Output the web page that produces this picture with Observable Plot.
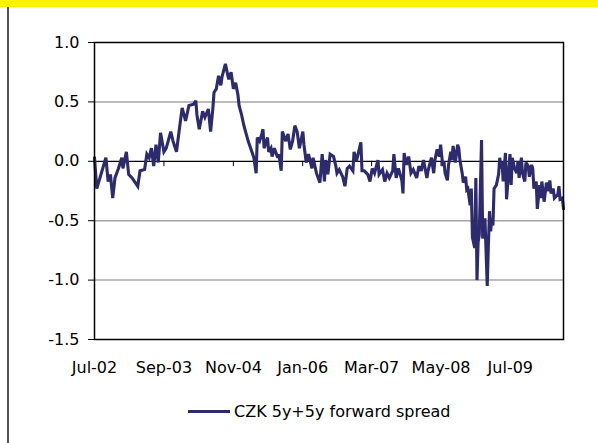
<!DOCTYPE html>
<html>
<head>
<meta charset="utf-8">
<script src="https://cdn.jsdelivr.net/npm/d3@7"></script>
<script src="https://cdn.jsdelivr.net/npm/@observablehq/plot@0.6"></script>
<style>
  html, body { margin: 0; padding: 0; background: #fff; }
  body { width: 598px; height: 443px; position: relative; overflow: hidden; font-family: "DejaVu Sans", sans-serif; }
  #band { position: absolute; left: 0; top: 0; width: 598px; height: 7px; background: #FFF200; }
  #vline { position: absolute; left: 7px; top: 7px; width: 1.5px; height: 436px; background: #555; }
  #chart { position: absolute; left: 0; top: 0; }
  #legend { position: absolute; left: 188px; top: 402px; display: flex; align-items: center; font-size: 16px; color: #000; white-space: nowrap; }
  #legend .sw { width: 42px; height: 3px; background: #2D2B6E; margin-right: 4px; }
</style>
</head>
<body>
<div id="band"></div>
<div id="vline"></div>
<div id="chart"></div>
<div id="legend"><span class="sw"></span><span id="legtext"></span></div>
<script>
// Series: [weeks since 1 Jul 2002, CZK 5y+5y forward spread]
const seriesName = "CZK 5y+5y forward spread";
const spread = [
[0,0.03],[2,-0.23],[10,0.03],[12,-0.17],[14,-0.11],[16,-0.31],[18,-0.14],[21,-0.06],[24,0.03],[25,-0.06],
[28,0.08],[30,-0.11],[33,-0.14],[38,-0.21],[40,-0.08],[44,-0.07],[46,0.06],[48,0.03],[50,0.11],[52,-0.04],
[54,0.14],[56,-0.01],[58,0.24],[61,0.08],[63,0.11],[67,0.25],[69,0.17],[72,0.08],[74,0.23],[77,0.45],
[80,0.34],[83,0.47],[87,0.48],[89,0.51],[90,0.39],[92,0.27],[95,0.42],[97,0.37],[100,0.44],[102,0.25],
[104,0.45],[105,0.58],[107,0.61],[109,0.72],[111,0.64],[112,0.71],[115,0.82],[117,0.73],[118,0.69],[120,0.75],
[122,0.61],[124,0.66],[126,0.56],[127,0.47],[129,0.40],[131,0.31],[133,0.24],[135,0.17],[139,0.06],[140,0.03],
[142,-0.10],[143,0.20],[145,0.17],[147,0.23],[148,0.27],[149,0.11],[152,0.20],[153,0.08],[155,0.11],[156,0.04],
[158,0.11],[161,0.03],[162,0.06],[164,-0.08],[165,0.25],[168,0.17],[170,0.23],[172,0.10],[174,0.17],[176,0.30],
[178,0.25],[180,0.11],[183,0.25],[184,0.14],[186,-0.01],[188,0.06],[191,-0.06],[192,0.03],[195,-0.10],[198,-0.18],
[200,0.06],[202,-0.17],[203,0.01],[205,-0.11],[207,0.06],[210,0.04],[212,-0.04],[213,-0.10],[215,-0.07],[218,-0.13],
[220,-0.21],[222,-0.06],[224,-0.04],[227,-0.08],[228,0.08],[230,0.00],[232,0.08],[234,0.16],[235,-0.08],[237,-0.08],
[240,-0.11],[242,-0.17],[244,-0.06],[246,-0.10],[249,0.01],[250,-0.11],[253,-0.07],[255,-0.17],[257,-0.10],[259,-0.14],
[262,-0.08],[263,0.06],[265,-0.14],[267,-0.06],[270,-0.16],[271,-0.27],[272,0.07],[274,-0.03],[276,0.04],[278,-0.10],
[280,-0.07],[283,-0.14],[285,-0.04],[287,-0.08],[289,0.01],[292,-0.14],[293,-0.08],[296,0.03],[298,-0.10],[299,0.01],
[301,0.10],[303,0.04],[304,0.14],[306,-0.04],[307,0.00],[308,-0.10],[310,-0.16],[311,-0.03],[313,0.08],[314,0.01],
[315,0.13],[317,-0.01],[319,0.14],[320,0.11],[321,0.01],[323,-0.10],[324,-0.18],[326,-0.13],[327,-0.24],[328,-0.23],
[330,-0.37],[331,-0.23],[332,-0.64],[334,-0.73],[335,-0.14],[336,-1.00],[337,-0.68],[338,-0.62],[340,0.18],[341,-0.65],
[342,-0.56],[343,-0.48],[345,-1.05],[346,-0.71],[347,-0.42],[348,-0.59],[349,-0.48],[350,-0.54],[351,-0.23],[353,-0.20],
[355,-0.11],[356,0.03],[357,-0.06],[358,0.00],[359,-0.17],[361,0.07],[362,-0.32],[364,-0.06],[365,0.06],[366,-0.20],
[367,0.03],[369,-0.06],[371,-0.10],[372,0.00],[373,-0.14],[375,0.03],[376,-0.10],[378,-0.17],[379,-0.01],[381,-0.04],
[382,-0.13],[384,-0.03],[385,-0.06],[386,-0.23],[388,-0.17],[389,-0.40],[391,-0.20],[392,-0.31],[393,-0.17],[395,-0.34],
[397,-0.18],[399,-0.25],[400,-0.16],[401,-0.27],[403,-0.23],[404,-0.31],[407,-0.28],[408,-0.21],[409,-0.32],[411,-0.31],
[412,-0.40]
];
const tickLabels = ["Jul-02","Sep-03","Nov-04","Jan-06","Mar-07","May-08","Jul-09"];
const tickMonths = [[2002,6],[2003,8],[2004,10],[2006,0],[2007,2],[2008,4],[2009,6]];
const yTicks = [-1.5, -1.0, -0.5, 0.0, 0.5, 1.0];
const gridValues = [-1.0, -0.5, 0.5];

const start = Date.UTC(2002, 6, 1);
const data = spread.map(([w, v]) => ({date: new Date(start + w * 7 * 86400000), value: v}));
const tickDates = tickMonths.map(([y, m]) => new Date(Date.UTC(y, m, 1)));
const labelOf = new Map(tickDates.map((d, i) => [+d, tickLabels[i]]));
const lineColor = "#2D2B6E";

const chart = Plot.plot({
  width: 598,
  height: 390,
  marginTop: 42,
  marginBottom: 51,
  marginLeft: 94,
  marginRight: 35,
  style: {fontFamily: "DejaVu Sans, sans-serif", fontSize: "16px", color: "#000", background: "transparent", overflow: "visible"},
  x: {type: "utc", domain: [new Date(start), data[data.length - 1].date]},
  y: {domain: [-1.5, 1.0]},
  marks: [
    Plot.ruleY(gridValues, {stroke: "#A6A6A6", strokeWidth: 1.5}),
    Plot.ruleY([0], {stroke: "#000", strokeWidth: 1.2}),
    Plot.ruleX(tickDates.slice(1), {y1: 0, y2: -0.045, stroke: "#000", strokeWidth: 1}),
    Plot.line(data, {x: "date", y: "value", stroke: lineColor, strokeWidth: 3.1, strokeLinejoin: "miter", strokeMiterlimit: 3}),
    Plot.frame({stroke: "#000", strokeWidth: 1.5}),
    Plot.axisY({ticks: yTicks, tickSize: 6, tickPadding: 9, tickFormat: d => d.toFixed(1), label: null, stroke: "#000"}),
    Plot.axisX({ticks: tickDates, tickSize: 0, tickPadding: 22, tickFormat: d => labelOf.get(+d), label: null})
  ]
});
document.getElementById("chart").appendChild(chart);
document.getElementById("legtext").textContent = seriesName;
</script>
</body>
</html>
